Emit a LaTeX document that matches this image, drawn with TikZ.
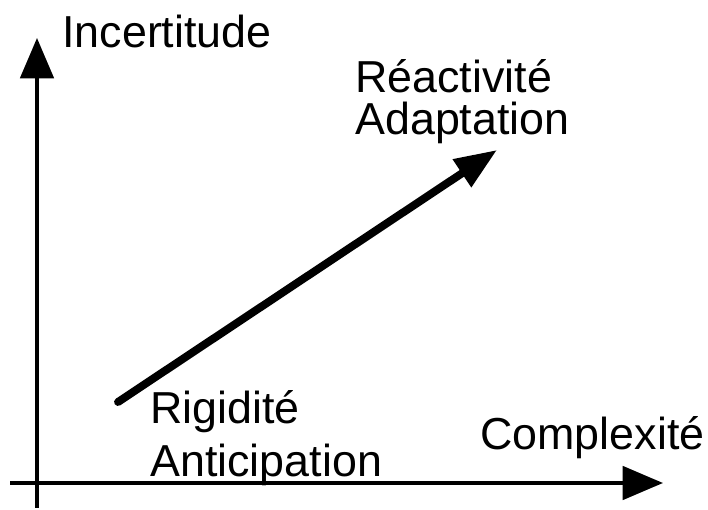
\documentclass[tikz,border=0pt]{standalone}
\usepackage{fontspec}
\setmainfont{Liberation Sans}
\usetikzlibrary{arrows.meta}

\begin{document}
\begin{tikzpicture}[x=0.02cm, y=-0.02cm, font=\fontsize{25.5}{30}\selectfont,
    lbl/.style={anchor=base west, inner sep=0pt},
    axis/.style={line width=2.2pt, -{Triangle[length=23pt, width=19pt]}}]
      \useasboundingbox (0, 0) rectangle (708, 510);

      \coordinate (ybot) at (37, 508);
      \coordinate (ytop) at (37, 38);
      \coordinate (xlft) at (10, 483);
      \coordinate (xrgt) at (663, 483);
      \coordinate (low) at (118, 402);
      \coordinate (high) at (497, 150);

      \node[lbl] (incert) at (62, 48) {Incertitude};
      \node[lbl] (complex) at (480, 450) {Complexité};
      \node[lbl] (react) at (355, 93) {Réactivité};
      \node[lbl] (adapt) at (355, 135) {Adaptation};
      \node[lbl] (rigid) at (150, 424) {Rigidité};
      \node[lbl] (antic) at (150, 477) {Anticipation};

      \draw [axis] (ybot) -- (ytop);
      \draw [axis] (xlft) -- (xrgt);
      \draw [line width=4.5pt, line cap=round, -{Triangle[length=24pt, width=18pt]}] (low) -- (high);
\end{tikzpicture}
\end{document}
